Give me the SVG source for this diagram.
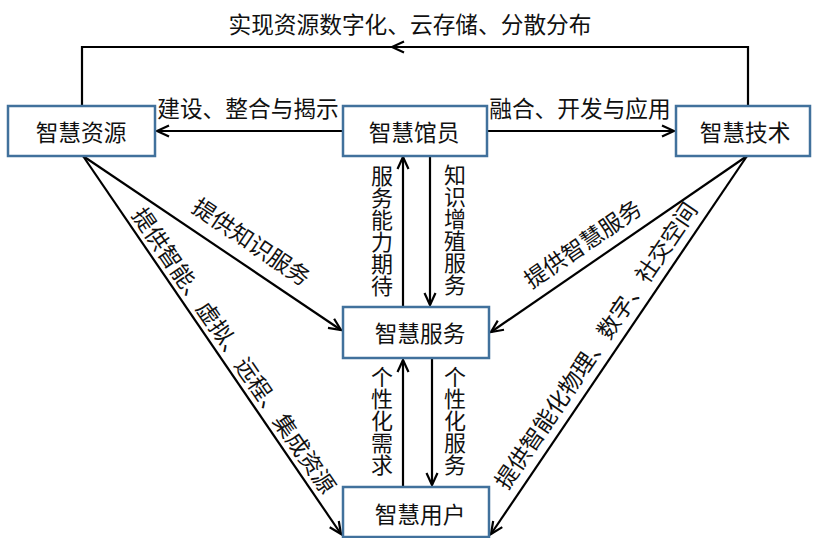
<svg xmlns="http://www.w3.org/2000/svg" width="813" height="538" viewBox="0 0 813 538">
<style>
.box{fill:#fff;stroke:#41719c;stroke-width:2.5}
.t{font-family:"Noto Sans CJK SC","Liberation Sans",sans-serif;font-size:22.7px;fill:#111;text-anchor:middle;dominant-baseline:central}
.v{font-family:"Noto Sans CJK SC","Liberation Sans",sans-serif;font-size:22px;fill:#111;text-anchor:middle;writing-mode:tb;text-orientation:upright}
.ln{fill:none;stroke:#000;stroke-width:2.2}
</style>
<defs>
<marker id="ah" markerUnits="userSpaceOnUse" markerWidth="16" markerHeight="14" viewBox="-14 -7 16 14" refX="0" refY="0" orient="auto">
<path d="M-12,-5.5 L0,0 L-12,5.5" fill="none" stroke="#000" stroke-width="2.2"/>
</marker>
</defs>
<g id="connectors">
<path class="ln" d="M748,105 V47 H392" marker-end="url(#ah)"/>
<path class="ln" d="M394,47 H82 V105"/>
<line class="ln" x1="343" y1="131" x2="157" y2="131" marker-end="url(#ah)"/>
<line class="ln" x1="487" y1="131" x2="674" y2="131" marker-end="url(#ah)"/>
<line class="ln" x1="403" y1="307" x2="403" y2="157" marker-end="url(#ah)"/>
<line class="ln" x1="430" y1="155" x2="430" y2="305" marker-end="url(#ah)"/>
<line class="ln" x1="403" y1="487" x2="403" y2="360" marker-end="url(#ah)"/>
<line class="ln" x1="432" y1="358" x2="432" y2="485" marker-end="url(#ah)"/>
<line class="ln" x1="83" y1="156" x2="341" y2="330" marker-end="url(#ah)"/>
<line class="ln" x1="83" y1="156" x2="341" y2="534" marker-end="url(#ah)"/>
<line class="ln" x1="747" y1="156" x2="491" y2="332" marker-end="url(#ah)"/>
<line class="ln" x1="747" y1="156" x2="491" y2="534" marker-end="url(#ah)"/>
<text class="t" x="410" y="23">实现资源数字化、云存储、分散分布</text>
<text class="t" x="248" y="107">建设、整合与揭示</text>
<text class="t" x="580" y="107">融合、开发与应用</text>
<text class="v" x="382" y="231">服务能力期待</text>
<text class="v" x="455" y="230">知识增殖服务</text>
<text class="v" x="382" y="421">个性化需求</text>
<text class="v" x="455" y="421">个性化服务</text>
<text class="t" transform="translate(252,241) rotate(34)">提供知识服务</text>
<text class="t" transform="translate(235,350) rotate(55.6)">提供智能、虚拟、远程、集成资源</text>
<text class="t" transform="translate(582,243) rotate(-34.3)">提供智慧服务</text>
<text class="t" transform="translate(595,345) rotate(-55.8)">提供智能化物理、数字、社交空间</text>
</g>
<g id="node-resource"><rect class="box" x="8" y="106" width="147" height="50"/><text class="t" x="81" y="131">智慧资源</text></g>
<g id="node-librarian"><rect class="box" x="343" y="106" width="144" height="50"/><text class="t" x="414" y="131">智慧馆员</text></g>
<g id="node-tech"><rect class="box" x="676" y="106" width="134" height="50"/><text class="t" x="745" y="131">智慧技术</text></g>
<g id="node-service"><rect class="box" x="343" y="307" width="146" height="51"/><text class="t" x="420" y="332">智慧服务</text></g>
<g id="node-user"><rect class="box" x="343" y="487" width="146" height="50"/><text class="t" x="420" y="513">智慧用户</text></g>
</svg>
